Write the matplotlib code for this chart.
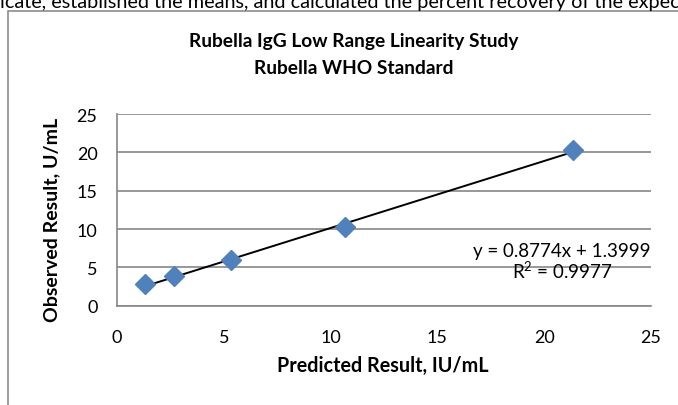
import matplotlib
matplotlib.use("Agg")
import matplotlib.pyplot as plt
from matplotlib.patches import Rectangle
import numpy as np

predicted = [1.33, 2.67, 5.33, 10.67, 21.33]
observed = [2.8, 3.9, 5.9, 10.2, 20.3]
x_ticks = [0, 5, 10, 15, 20, 25]
y_ticks = [0, 5, 10, 15, 20, 25]
title_lines = ["Rubella IgG Low Range Linearity Study", "Rubella WHO Standard"]
equation_text = "y = 0.8774x + 1.3999"
r2_text = "R$^2$ = 0.9977"
top_text = "icate, established the means, and calculated the percent recovery of the expected"

plt.rcParams['font.family'] = ['Lato', 'DejaVu Sans']
plt.rcParams['mathtext.fontset'] = 'custom'
plt.rcParams['mathtext.rm'] = 'Lato'

fig = plt.figure(figsize=(6.78, 4.06), dpi=100)
fig.patch.set_facecolor('white')

# chart frame (partially cut off)
frame = Rectangle((8/678, -0.2), 1.2, 1 - 12/406 + 0.2, transform=fig.transFigure,
                  fill=False, edgecolor='#8c8c8c', linewidth=1.2)
fig.patches.append(frame)

fig.text(0.0, 1 - 8/406, top_text, ha='left', va='baseline', fontsize=14.3, color='black')

ax = fig.add_axes([117/678, 1 - 306.7/406, (651 - 117)/678, (306.7 - 115)/406])
ax.set_xlim(0, 25)
ax.set_ylim(0, 25)
ax.set_xticks(x_ticks)
ax.set_yticks(y_ticks)
ax.tick_params(axis='both', length=0, labelsize=13)
ax.tick_params(axis='y', pad=14)
ax.tick_params(axis='x', pad=17)
for s in ['top', 'right']:
    ax.spines[s].set_visible(False)
for s in ['left', 'bottom']:
    ax.spines[s].set_color('#868686')
    ax.spines[s].set_linewidth(1.2)
ax.yaxis.grid(True, color='#868686', linewidth=1.2)
ax.set_axisbelow(True)

# trendline from least squares
coef = np.polyfit(predicted, observed, 1)
xs = np.array([min(predicted), max(predicted)])
ax.plot(xs, np.polyval(coef, xs), color='black', linewidth=1.4, zorder=2)

ax.plot(predicted, observed, linestyle='none', marker='D', markersize=10,
        color='#4F81BD', markeredgecolor='#4F81BD', zorder=3)

fig.text(562/678, 1 - 252/406, equation_text, ha='center', va='center', fontsize=13.5)
fig.text(562/678, 1 - 271/406, r2_text, ha='center', va='center', fontsize=13.5)

fig.text(354/678, 1 - 41/406, title_lines[0], ha='center', va='center', fontsize=13.8, fontweight='bold')
fig.text(354/678, 1 - 69/406, title_lines[1], ha='center', va='center', fontsize=13.8, fontweight='bold')

fig.text(383/678, 1 - 366/406, "Predicted Result, IU/mL", ha='center', va='center',
         fontsize=14.2, fontweight='bold')
fig.text(52/678, 1 - 220/406, "Observed Result, U/mL", ha='center', va='center',
         rotation=90, fontsize=14, fontweight='bold')

fig.savefig("out.png", dpi=100)
